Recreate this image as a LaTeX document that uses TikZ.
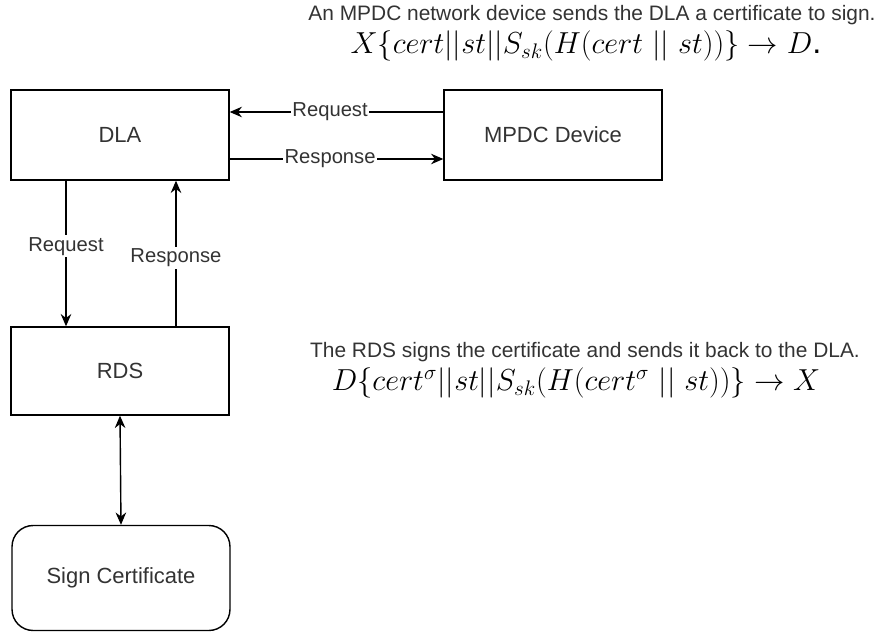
\documentclass[tikz,border=0pt]{standalone}
\usepackage{fontspec}
\setmainfont{Liberation Sans}
\usepackage{amsmath}
\usetikzlibrary{arrows.meta, positioning}

\begin{document}
\begin{tikzpicture}[
  x=0.02cm, y=-0.02cm,
  box/.style={draw, line width=0.8pt, minimum width=4.36cm, minimum height=1.8cm, font=\fontsize{12.5}{14}\selectfont, text=black!80, align=center},
  roundbox/.style={box, rounded corners=12pt, minimum height=2.1cm},
  note/.style={inner sep=0pt, font=\fontsize{11.9}{14}\selectfont, text=black!80},
  formula/.style={inner sep=0pt, font=\fontsize{18.5}{22}\selectfont},
  lbl/.style={fill=white, inner sep=1pt, font=\fontsize{11.5}{13}\selectfont, text=black!80},
  arr/.style={-{Stealth[length=7pt, width=6pt]}, line width=0.8pt},
  biarr/.style={{Stealth[length=7pt, width=6pt]}-{Stealth[length=7pt, width=6pt]}, line width=0.8pt},
]
\useasboundingbox (0,0) rectangle (880,632);

% Boxes
\node[box] (dla) at (120, 135) {DLA};
\node[box] (mpdc) at (553, 135) {MPDC Device};
\node[box, minimum height=1.76cm] (rds) at (120, 371) {RDS};
\node[roundbox] (sign) at (121, 578) {Sign Certificate};

% Notes
\node[note] (note1) at (592, 15) {An MPDC network device sends the DLA a certificate to sign.};
\node[formula] (eq1) at (586, 46) {$X\{cert||st||S_{sk}(H(cert\ ||\ st))\}\rightarrow D$.};
\node[note] (note2) at (585, 352) {The RDS signs the certificate and sends it back to the DLA.};
\node[formula] (eq2) at (576, 383) {$D\{cert^{\sigma}||st||S_{sk}(H(cert^{\sigma}\ ||\ st))\}\rightarrow X$};

% DLA <-> MPDC Device
\draw[arr] ([yshift=0.46cm]mpdc.west) -- node[lbl, pos=0.53] {Request} ([yshift=0.46cm]dla.east);
\draw[arr] ([yshift=-0.48cm]dla.east) -- node[lbl, pos=0.47] {Response} ([yshift=-0.48cm]mpdc.west);

% DLA <-> RDS
\draw[arr] ([xshift=-1.08cm]dla.south) -- node[lbl, pos=0.45] {Request} ([xshift=-1.08cm]rds.north);
\draw[arr] ([xshift=1.12cm]rds.north) -- node[lbl, pos=0.47] {Response} ([xshift=1.12cm]dla.south);

% RDS <-> Sign Certificate
\draw[biarr] (rds.south) -- (sign.north);

\end{tikzpicture}
\end{document}
